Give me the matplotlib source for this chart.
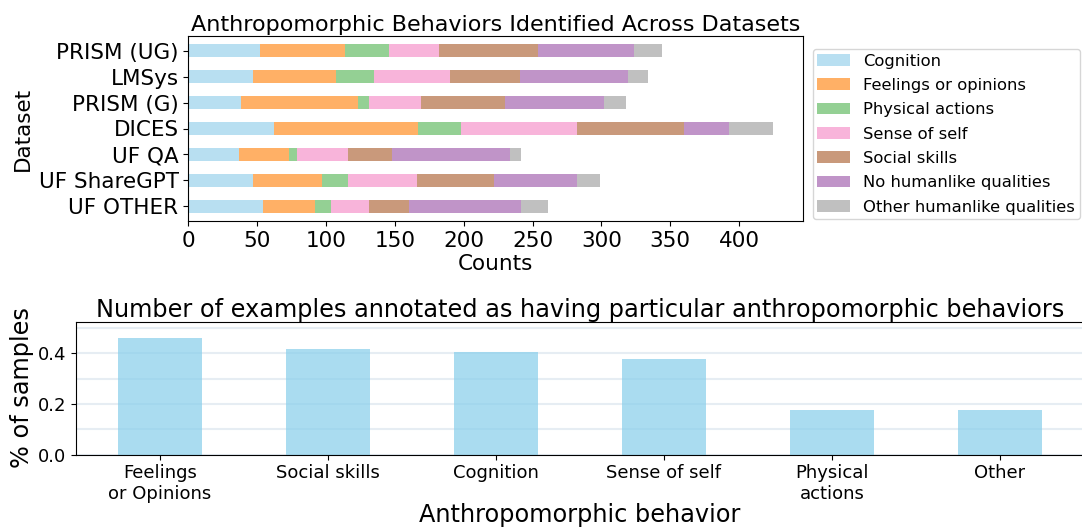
import numpy as np
import matplotlib
matplotlib.use("Agg")
import matplotlib.pyplot as plt

# ---- data: top chart ----
datasets = ["PRISM (UG)", "LMSys", "PRISM (G)", "DICES", "UF QA", "UF ShareGPT", "UF OTHER"]
behaviors = ["Cognition", "Feelings or opinions", "Physical actions", "Sense of self",
             "Social skills", "No humanlike qualities", "Other humanlike qualities"]
cognition = [52, 47, 38, 62, 37, 47, 54]
feelings = [62, 60, 85, 105, 36, 50, 38]
physical = [32, 28, 8, 31, 6, 19, 12]
sense_self = [36, 55, 38, 84, 37, 50, 27]
social = [72, 51, 61, 78, 32, 56, 29]
no_humanlike = [70, 78, 72, 33, 86, 60, 82]
other_humanlike = [20, 15, 16, 32, 8, 17, 19]
series = [cognition, feelings, physical, sense_self, social, no_humanlike, other_humanlike]
colors = ["#B8DFF1", "#FFB066", "#94D094", "#F8B4DA", "#C9997B", "#C094C8", "#C0C0C0"]

# ---- data: bottom chart ----
cats = ["Feelings\nor Opinions", "Social skills", "Cognition", "Sense of self", "Physical\nactions", "Other"]
fractions = [0.459, 0.416, 0.404, 0.376, 0.175, 0.175]

W, H = 1082, 528
fig = plt.figure(figsize=(W / 100, H / 100), dpi=100)

# top axes
ax1 = fig.add_axes([188.3 / W, 1 - 221 / H, 614.4 / W, 185 / H])
y = np.arange(len(datasets))
left = np.zeros(len(datasets))
for vals, name, c in zip(series, behaviors, colors):
    ax1.barh(y, vals, height=0.5, left=left, color=c, label=name)
    left = left + np.array(vals)
ax1.set_yticks(y)
ax1.set_yticklabels(datasets, fontsize=15.5)
ax1.invert_yaxis()
ax1.set_xlim(0, left.max() * 1.05)
ax1.set_xticks([0, 50, 100, 150, 200, 250, 300, 350, 400])
ax1.tick_params(axis="x", labelsize=15.5)
ax1.set_xlabel("Counts", fontsize=15.5, labelpad=2)
ax1.set_ylabel("Dataset", fontsize=15.5)
ax1.set_title("Anthropomorphic Behaviors Identified Across Datasets", fontsize=16, pad=3.5)
ax1.legend(loc="center left", bbox_to_anchor=(1.0, 0.47), fontsize=11.8,
           frameon=True, borderaxespad=0.6, handlelength=2.0,
           labelspacing=0.57, borderpad=0.3)

# bottom axes
ax2 = fig.add_axes([76 / W, 1 - 454.5 / H, 1008 / W, 133 / H])
x = np.arange(len(cats))
ax2.bar(x, fractions, width=0.5, color="skyblue", alpha=0.7, zorder=2)
ax2.set_axisbelow(True)
ax2.set_yticks([0.0, 0.2, 0.4])
ax2.set_yticks([0.1, 0.3, 0.5], minor=True)
ax2.yaxis.grid(True, which="both", color="#e6edf3", linewidth=1.5)
ax2.tick_params(axis="y", which="minor", length=0)
ax2.set_ylim(0, 0.525)
ax2.set_xlim(-0.5, 5.5)
ax2.set_xticks(x)
ax2.set_xticklabels(cats, fontsize=13)
ax2.tick_params(axis="y", labelsize=13)
ax2.set_xlabel("Anthropomorphic behavior", fontsize=17.3, labelpad=0)
ax2.set_ylabel("% of samples", fontsize=17.3, labelpad=3)
ax2.set_title("Number of examples annotated as having particular anthropomorphic behaviors",
              fontsize=17.3, pad=0.8)

fig.savefig("out.png", dpi=100)
